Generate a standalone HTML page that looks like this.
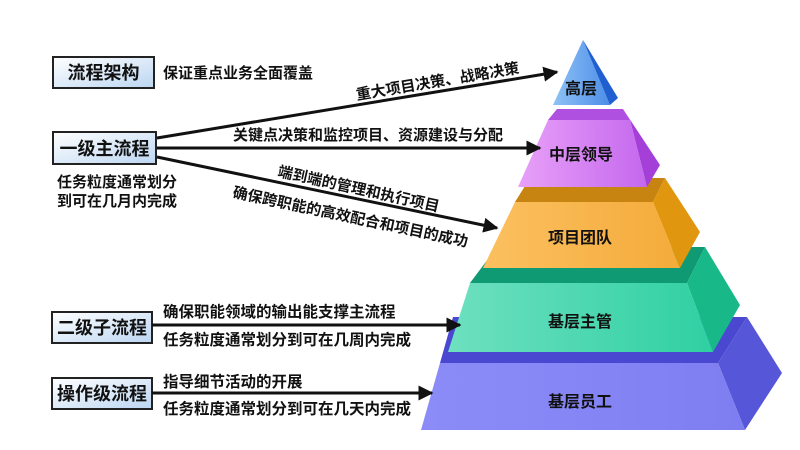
<!DOCTYPE html>
<html><head><meta charset="utf-8"><style>
html,body{margin:0;padding:0;background:#fff;}
svg{display:block;}
text{font-family:"Liberation Sans","Noto Sans CJK SC",sans-serif;font-weight:bold;fill:#111;}
</style></head><body>
<svg width="800" height="450" viewBox="0 0 800 450" xmlns="http://www.w3.org/2000/svg">
<defs>
<linearGradient id="bx" x1="0" y1="0" x2="1" y2="1"><stop offset="0" stop-color="#ffffff"/><stop offset="1" stop-color="#bcd6f2"/></linearGradient>
<linearGradient id="g1" x1="0" y1="0" x2="1" y2="0"><stop offset="0" stop-color="#8ec2f5"/><stop offset="1" stop-color="#4d8de8"/></linearGradient>
<linearGradient id="g2" x1="0" y1="0" x2="1" y2="0"><stop offset="0" stop-color="#e8a0f8"/><stop offset="1" stop-color="#c468ee"/></linearGradient>
<linearGradient id="g3" x1="0" y1="0" x2="1" y2="0"><stop offset="0" stop-color="#fcc060"/><stop offset="1" stop-color="#f4ab3a"/></linearGradient>
<linearGradient id="g4" x1="0" y1="0" x2="1" y2="0"><stop offset="0" stop-color="#6ee0c0"/><stop offset="1" stop-color="#2fd0a2"/></linearGradient>
<linearGradient id="g5" x1="0" y1="0" x2="1" y2="0"><stop offset="0" stop-color="#8c8cf8"/><stop offset="1" stop-color="#7e7ef2"/></linearGradient>
<marker id="ar" viewBox="0 0 10 10" refX="9" refY="5" markerWidth="5" markerHeight="5" orient="auto"><path d="M0,0 L10,5 L0,10 z" fill="#111"/></marker>
</defs>

<polygon points="453,317 747,317 718,363 440,363" fill="#4a48d0"/>
<polygon points="747,317 782,373 745,430 718,363" fill="#5656d8"/>
<polygon points="440,363 718,363 745,430 421,430" fill="url(#g5)"/>
<polygon points="497,247 705,247 687,283 470,283" fill="#0f9a74"/>
<polygon points="705,247 740,305 713,352 687,283" fill="#18b888"/>
<polygon points="470,283 687,283 713,352 448,352" fill="url(#g4)"/>
<polygon points="530,178 665,178 653,202 515,202" fill="#c88410"/>
<polygon points="665,178 700,232 680,268 653,202" fill="#e0960e"/>
<polygon points="515,202 653,202 680,268 483,268" fill="url(#g3)"/>
<polygon points="557,109 623,109 630,120 548,120" fill="#b050e0"/>
<polygon points="623,109 660,165 647,187 630,120" fill="#a440d8"/>
<polygon points="548,120 630,120 647,187 518,187" fill="url(#g2)"/>
<polygon points="583,40 610,105 553,105" fill="url(#g1)"/>
<polygon points="583,40 618,98 610,105" fill="#1f5fd0"/>

<text x="581" y="94" font-size="16" text-anchor="middle">高层</text>
<text x="581" y="160" font-size="16" text-anchor="middle">中层领导</text>
<text x="580" y="243" font-size="16" text-anchor="middle">项目团队</text>
<text x="580" y="327" font-size="16" text-anchor="middle">基层主管</text>
<text x="580" y="407" font-size="16" text-anchor="middle">基层员工</text>

<rect x="53" y="57" width="101" height="31" fill="url(#bx)" stroke="#222" stroke-width="2"/>
<text x="103.5" y="79" font-size="18" text-anchor="middle">流程架构</text>
<rect x="53" y="132" width="103" height="32" fill="url(#bx)" stroke="#222" stroke-width="2"/>
<text x="104.5" y="155" font-size="18" text-anchor="middle">一级主流程</text>
<rect x="52" y="312" width="100" height="31" fill="url(#bx)" stroke="#222" stroke-width="2"/>
<text x="102" y="334" font-size="18" text-anchor="middle">二级子流程</text>
<rect x="52" y="378" width="100" height="31" fill="url(#bx)" stroke="#222" stroke-width="2"/>
<text x="102" y="400" font-size="18" text-anchor="middle">操作级流程</text>

<text x="163" y="78" font-size="15">保证重点业务全面覆盖</text>
<text x="57" y="187" font-size="15">任务粒度通常划分</text>
<text x="57" y="206" font-size="15">到可在几月内完成</text>

<line x1="157" y1="138" x2="557" y2="72" stroke="#111" stroke-width="3" marker-end="url(#ar)"/>
<line x1="157" y1="148" x2="540" y2="148" stroke="#111" stroke-width="3" marker-end="url(#ar)"/>
<line x1="157" y1="157" x2="497" y2="228" stroke="#111" stroke-width="3" marker-end="url(#ar)"/>
<line x1="152" y1="325" x2="460" y2="325" stroke="#111" stroke-width="3" marker-end="url(#ar)"/>
<line x1="152" y1="393" x2="432" y2="393" stroke="#111" stroke-width="3" marker-end="url(#ar)"/>

<text font-size="15" transform="translate(357,100) rotate(-9.5)">重大项目决策、战略决策</text>
<text x="233" y="140" font-size="15">关键点决策和监控项目、资源建设与分配</text>
<text font-size="15" transform="translate(277,176) rotate(12.5)">端到端的管理和执行项目</text>
<text font-size="15" transform="translate(232,197) rotate(12)">确保跨职能的高效配合和项目的成功</text>

<text x="163" y="317" font-size="15.5">确保职能领域的输出能支撑主流程</text>
<text x="163" y="345" font-size="15.5">任务粒度通常划分到可在几周内完成</text>
<text x="163" y="387" font-size="15.5">指导细节活动的开展</text>
<text x="163" y="414" font-size="15.5">任务粒度通常划分到可在几天内完成</text>
</svg>
</body></html>
